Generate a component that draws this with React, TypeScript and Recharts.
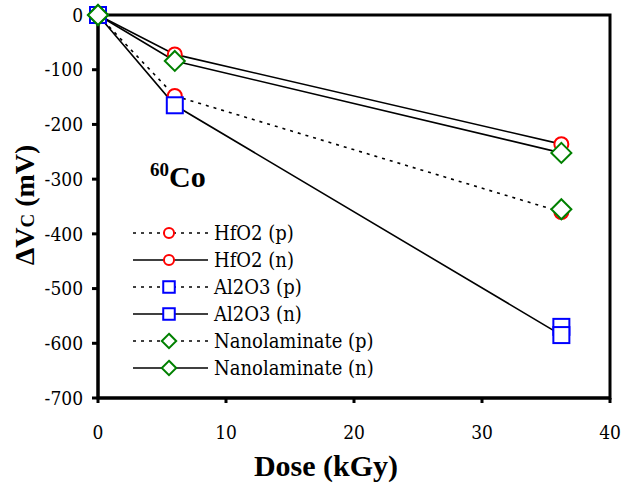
import React from "react";
import { LineChart, Line, XAxis, YAxis, ReferenceArea } from "recharts";

// dose in kGy, shift in mV
const doses = [0, 6, 36.2];
const hfo2P = [0, -148, -360];
const hfo2N = [0, -72, -236];
const al2o3P = [0, null, -570];
const al2o3N = [0, -165, -585];
const nanoP = [0, null, -355];
const nanoN = [0, -84, -252];

const xTicks = [0, 10, 20, 30, 40];
const yTicks = [0, -100, -200, -300, -400, -500, -600, -700];

const data = doses.map((d, i) => ({
  dose: d,
  hfo2P: hfo2P[i],
  hfo2N: hfo2N[i],
  al2o3P: al2o3P[i],
  al2o3N: al2o3N[i],
  nanoP: nanoP[i],
  nanoN: nanoN[i],
}));

const RED = "#ff0000";
const BLUE = "#0000ff";
const GREEN = "#008000";
const DOTTED = "3 5";
const serif = "'DejaVu Serif', serif";
const timesBold = "'Liberation Serif', 'Times New Roman', serif";

type Shape = "circle" | "square" | "diamond";

const series: { key: string; name: string; shape: Shape; color: string; dotted: boolean }[] = [
  { key: "hfo2P", name: "HfO2 (p)", shape: "circle", color: RED, dotted: true },
  { key: "hfo2N", name: "HfO2 (n)", shape: "circle", color: RED, dotted: false },
  { key: "al2o3P", name: "Al2O3 (p)", shape: "square", color: BLUE, dotted: true },
  { key: "al2o3N", name: "Al2O3 (n)", shape: "square", color: BLUE, dotted: false },
  { key: "nanoP", name: "Nanolaminate (p)", shape: "diamond", color: GREEN, dotted: true },
  { key: "nanoN", name: "Nanolaminate (n)", shape: "diamond", color: GREEN, dotted: false },
];

function Marker({ shape, color, cx, cy, s = 1 }: { shape: Shape; color: string; cx: number; cy: number; s?: number }) {
  if (shape === "circle") {
    return <circle cx={cx} cy={cy} r={7 * s} fill="#fff" stroke={color} strokeWidth={2} />;
  }
  if (shape === "square") {
    const h = 8 * s;
    return <rect x={cx - h} y={cy - h} width={2 * h} height={2 * h} fill="#fff" stroke={color} strokeWidth={2} />;
  }
  const d = 10 * s;
  return (
    <polygon
      points={`${cx},${cy - d} ${cx + d},${cy} ${cx},${cy + d} ${cx - d},${cy}`}
      fill="#fff"
      stroke={color}
      strokeWidth={2}
    />
  );
}

const makeDot = (shape: Shape, color: string, id: string) => (props: any) => {
  const { cx, cy, index } = props;
  if (cx == null || cy == null || props.value == null) return <g key={`${id}-${index}`} />;
  return (
    <g key={`${id}-${index}`}>
      <Marker shape={shape} color={color} cx={cx} cy={cy} />
    </g>
  );
};

function SeriesLegend() {
  return (
    <div
      style={{
        position: "absolute",
        left: 132,
        top: 219,
        fontFamily: serif,
        fontStretch: "condensed",
        fontSize: 20,
        color: "#000",
      }}
    >
      {series.map((s) => (
        <div key={s.key} style={{ display: "flex", alignItems: "center", height: 27 }}>
          <svg width={78} height={24}>
            <line
              x1={1}
              y1={12}
              x2={76}
              y2={12}
              stroke="#000"
              strokeWidth={1.6}
              strokeDasharray={s.dotted ? DOTTED : undefined}
            />
            <Marker shape={s.shape} color={s.color} cx={37} cy={12} s={0.72} />
          </svg>
          <span style={{ marginLeft: 4 }}>{s.name}</span>
        </div>
      ))}
    </div>
  );
}

function YTitle() {
  // centred on the plot's vertical middle
  const cy = 205;
  const cx = 24;
  return (
    <text
      x={cx}
      y={cy}
      transform={`rotate(-90, ${cx}, ${cy})`}
      textAnchor="middle"
      dominantBaseline="central"
      fontFamily={timesBold}
      fontWeight="bold"
      fontSize={28}
      fill="#000"
    >
      ΔV
      <tspan fontSize={19} dy={3}>C</tspan>
      <tspan dy={-3}> (mV)</tspan>
    </text>
  );
}

export default function App() {
  return (
    <div
      style={{
        position: "absolute",
        left: 0,
        top: 0,
        width: 622,
        height: 488,
        background: "#fff",
        fontStretch: "condensed",
      }}
    >
      <LineChart
        width={622}
        height={488}
        data={data}
        margin={{ top: 15, right: 12, left: 38, bottom: 30 }}
      >
        <ReferenceArea
          x1={0}
          x2={40}
          y1={-700}
          y2={0}
          fill="none"
          fillOpacity={0}
          stroke="#000"
          strokeWidth={3}
        />
        <XAxis
          dataKey="dose"
          type="number"
          domain={[0, 40]}
          ticks={xTicks}
          height={60}
          axisLine={{ stroke: "#000", strokeWidth: 3 }}
          tickLine={{ stroke: "#000", strokeWidth: 3 }}
          tickSize={5}
          tickMargin={23}
          tick={{ fill: "#000", fontFamily: serif, fontSize: 19 }}
          label={{
            value: "Dose (kGy)",
            position: "insideBottom",
            offset: -18,
            dx: -28,
            style: { fontFamily: timesBold, fontWeight: "bold", fontSize: 30, fill: "#000" },
          }}
        />
        <YAxis
          type="number"
          domain={[-700, 0]}
          ticks={yTicks}
          width={60}
          axisLine={{ stroke: "#000", strokeWidth: 3 }}
          tickLine={{ stroke: "#000", strokeWidth: 3 }}
          tickSize={6}
          tickMargin={9}
          tick={{ fill: "#000", fontFamily: serif, fontSize: 19 }}
          label={{ content: <YTitle /> }}
        />
        {series.map((s) => (
          <Line
            key={s.key}
            dataKey={s.key}
            name={s.name}
            type="linear"
            stroke="#000"
            strokeWidth={1.6}
            strokeDasharray={s.dotted ? DOTTED : undefined}
            dot={makeDot(s.shape, s.color, s.key)}
            activeDot={false}
            connectNulls={false}
            isAnimationActive={false}
          />
        ))}
      </LineChart>
      <SeriesLegend />
      <div
        style={{
          position: "absolute",
          left: 150,
          top: 160,
          fontFamily: timesBold,
          fontWeight: "bold",
          fontSize: 30,
          color: "#000",
          lineHeight: 1,
        }}
      >
        <sup style={{ fontSize: 19 }}>60</sup>Co
      </div>
    </div>
  );
}
